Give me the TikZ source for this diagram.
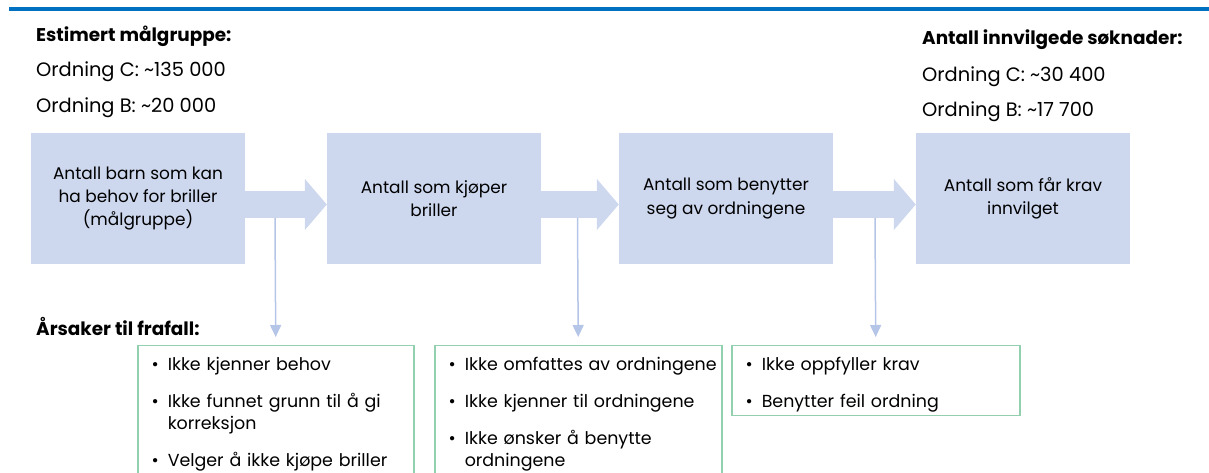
\documentclass[tikz,border=0pt]{standalone}
\usepackage{fontspec}
\setmainfont{Poppins}
\usepackage{enumitem}
\usetikzlibrary{arrows.meta}
\usetikzlibrary{positioning}
\definecolor{stepblue}{RGB}{205,216,239}
\definecolor{dropblue}{RGB}{180,197,231}
\definecolor{lossgreen}{RGB}{146,208,176}
\definecolor{ruleblue}{RGB}{0,112,192}
\setlist[itemize]{nosep, leftmargin=30bp, labelsep=9bp, itemsep=15bp, label=\textbullet}
\tikzset{stage/.style={rectangle, fill=stepblue, minimum width=214bp, minimum height=131bp, inner sep=0pt, align=center, font=\fontsize{17}{23.5}\selectfont}}
\tikzset{flow/.style={draw=stepblue, line width=27bp, -{Triangle[length=22bp,width=50bp]}}}
\tikzset{drop/.style={draw=dropblue, line width=1.5bp, -{Triangle[length=12bp,width=11bp]}, shorten >=8bp}}
\tikzset{losses/.style={rectangle, draw=lossgreen, line width=1.5bp, anchor=north west, inner xsep=0pt, inner ysep=3bp, font=\fontsize{17.5}{22}\selectfont}}
\tikzset{headline/.style={anchor=west, inner sep=0pt, font=\fontsize{18.5}{22}\selectfont\bfseries}}
\tikzset{tally/.style={anchor=west, inner sep=0pt, font=\fontsize{19.5}{22}\selectfont}}

\begin{document}
\begin{tikzpicture}[x=1bp, y=-1bp]
	\useasboundingbox (0,0) rectangle (1209,473);
	\clip (0,0) rectangle (1209,473);
	\draw[ruleblue, line width=4bp] (9,9) -- (1209,9);

	% figures at the start and at the end
	\node[headline] (goalhead) at (36,36) {Estimert målgruppe:};
	\node[tally] (goalC) at (36,72) {Ordning C: \textasciitilde135 000};
	\node[tally] (goalB) at (36,108) {Ordning B: \textasciitilde20 000};
	\node[headline] (granthead) at (922,40) {Antall innvilgede søknader:};
	\node[tally] (grantC) at (922,77) {Ordning C: \textasciitilde30 400};
	\node[tally] (grantB) at (922,112) {Ordning B: \textasciitilde17 700};

	% the four stages
	\node[stage] (stage1) at (138,198.5) {Antall barn som kan\\ha behov for briller\\(målgruppe)};
	\node[stage] (stage2) at (434,198.5) {Antall som kjøper\\briller};
	\node[stage] (stage3) at (726,198.5) {Antall som benytter\\seg av ordningene};
	\node[stage] (stage4) at (1023,198.5) {Antall som får krav\\innvilget};
	\draw[flow] ([yshift=-6bp]stage1.east) -- ([yshift=-6bp]stage2.west);
	\draw[flow] ([yshift=-6bp]stage2.east) -- ([yshift=-6bp]stage3.west);
	\draw[flow] ([yshift=-6bp]stage3.east) -- ([yshift=-6bp]stage4.west);

	% reasons for dropping out
	\node[headline] (losshead) at (36,326) {Årsaker til frafall:};
	\node[losses, text width=276bp] (loss1) at (137,345) {\begin{itemize}
		\item Ikke kjenner behov
		\item Ikke funnet grunn til å gi korreksjon
		\item Velger å ikke kjøpe briller
	\end{itemize}};
	\node[losses, text width=287bp] (loss2) at (434,345) {\begin{itemize}
		\item Ikke omfattes av ordningene
		\item Ikke kjenner til ordningene
		\item Ikke ønsker å benytte ordningene
	\end{itemize}};
	\node[losses, text width=288bp] (loss3) at (731,345) {\begin{itemize}
		\item Ikke oppfyller krav
		\item Benytter feil ordning
	\end{itemize}};
	\coordinate (split1) at (275,218);
	\coordinate (split2) at (577.5,218);
	\coordinate (split3) at (875,218);
	\draw[drop] (split1) -- (loss1.north);
	\draw[drop] (split2) -- (loss2.north);
	\draw[drop] (split3) -- (loss3.north);
\end{tikzpicture}
\end{document}
